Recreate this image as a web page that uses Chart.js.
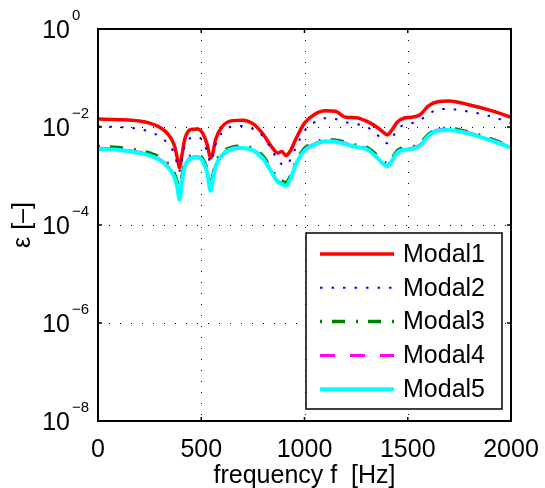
<!doctype html>
<html lang="en">
<head>
<meta charset="utf-8">
<title>Modal error vs frequency</title>
<script src="https://cdn.jsdelivr.net/npm/chart.js@4"></script>
<style>
  body { margin: 0; background: #fff; }
</style>
</head>
<body>
<canvas id="errChart" width="545" height="488"></canvas>

<script>
// frequency axis [Hz]
var freq = [0, 100, 200, 250, 300, 340, 370, 385, 395, 405,
            420, 450, 480, 510, 530, 545, 555, 570, 600, 650,
            700, 750, 800, 840, 870, 890, 910, 930, 960, 1000,
            1050, 1100, 1150, 1200, 1250, 1300, 1350, 1380, 1400, 1420,
            1450, 1480, 1520, 1560, 1600, 1650, 1700, 1800, 1900, 2000];

var modal1 = [0.0145, 0.0141, 0.0132, 0.0120, 0.00977, 0.00708, 0.00417, 0.00224, 0.00145, 0.0024,
              0.00562, 0.00891, 0.00912, 0.00708, 0.00417, 0.00234, 0.00282, 0.00562, 0.0100, 0.0135,
              0.0138, 0.0117, 0.00708, 0.00398, 0.00295, 0.00316, 0.00263, 0.00316, 0.00589, 0.0120,
              0.0182, 0.0214, 0.0209, 0.0158, 0.0155, 0.0132, 0.0100, 0.00794, 0.00692, 0.00832,
              0.0126, 0.0151, 0.0158, 0.0178, 0.0269, 0.0331, 0.0339, 0.0282, 0.0219, 0.0158];

var modal2 = [0.0102, 0.0100, 0.00912, 0.00794, 0.00631, 0.00447, 0.00282, 0.00166, 0.00126, 0.00200,
              0.00398, 0.00603, 0.00631, 0.00501, 0.00302, 0.00186, 0.0024, 0.00447, 0.00759, 0.0102,
              0.0105, 0.00912, 0.00631, 0.00355, 0.00209, 0.00174, 0.00166, 0.00209, 0.00398, 0.00832,
              0.0126, 0.0151, 0.0145, 0.0126, 0.0115, 0.0102, 0.00708, 0.00525, 0.00468, 0.00562,
              0.00891, 0.0110, 0.0120, 0.0138, 0.0182, 0.0229, 0.0234, 0.0204, 0.0166, 0.0120];

var modal3 = [0.00398, 0.0038, 0.00331, 0.00295, 0.0024, 0.00174, 0.00112, 0.000708, 0.000447, 0.000891,
              0.00174, 0.00257, 0.00269, 0.00214, 0.00126, 0.000631, 0.000955, 0.00182, 0.00295, 0.00389,
              0.00407, 0.00363, 0.00251, 0.00138, 0.000891, 0.000794, 0.000741, 0.000955, 0.002, 0.00363,
              0.00479, 0.0055, 0.00537, 0.0049, 0.00427, 0.00389, 0.00269, 0.00204, 0.00182, 0.00214,
              0.00331, 0.00372, 0.00389, 0.00457, 0.00708, 0.00912, 0.00933, 0.00776, 0.00575, 0.00407];

var modal4 = [0.00368, 0.00351, 0.00305, 0.00272, 0.00216, 0.00156, 0.00099, 0.00058, 0.00034, 0.00073,
              0.00156, 0.00237, 0.00248, 0.00198, 0.00116, 0.00052, 0.00082, 0.00164, 0.00272, 0.00368,
              0.00385, 0.00343, 0.00232, 0.00124, 0.00079, 0.00072, 0.00065, 0.00086, 0.00184, 0.00343,
              0.00452, 0.00531, 0.00519, 0.00463, 0.00403, 0.00368, 0.00248, 0.00184, 0.00164, 0.00198,
              0.00313, 0.00351, 0.00368, 0.00432, 0.00684, 0.00881, 0.00902, 0.0075, 0.00556, 0.00393];

var modal5 = [0.00355, 0.00339, 0.00295, 0.00263, 0.00209, 0.00151, 0.000955, 0.000562, 0.000331, 0.000708,
              0.00151, 0.00229, 0.0024, 0.00191, 0.00112, 0.000501, 0.000794, 0.00158, 0.00263, 0.00355,
              0.00372, 0.00331, 0.00224, 0.0012, 0.000759, 0.000692, 0.000631, 0.000832, 0.00178, 0.00331,
              0.00437, 0.00513, 0.00501, 0.00447, 0.00389, 0.00355, 0.0024, 0.00178, 0.00158, 0.00191,
              0.00302, 0.00339, 0.00355, 0.00417, 0.00661, 0.00851, 0.00871, 0.00724, 0.00537, 0.0038];

var seriesNames = ['Modal1', 'Modal2', 'Modal3', 'Modal4', 'Modal5'];
var xTicks = [0, 500, 1000, 1500, 2000];
var yTickExp = [-8, -6, -4, -2, 0];

var FONT = '"Liberation Sans", Arial, Helvetica, sans-serif';

function pts(vals) {
    return freq.map(function (f, i) { return { x: f, y: vals[i] }; });
}

// grid, box and inward ticks, matlab style
var framePlugin = {
    id: 'frame',
    beforeDatasetsDraw: function (chart) {
        var ctx = chart.ctx, a = chart.chartArea;
        var xs = chart.scales.x, ys = chart.scales.y;
        ctx.save();
        ctx.strokeStyle = '#000';
        ctx.lineWidth = 1;
        ctx.setLineDash([1, 10]);
        xTicks.slice(1, -1).forEach(function (v) {
            var px = Math.round(xs.getPixelForValue(v)) + 0.5;
            ctx.beginPath(); ctx.moveTo(px, a.top); ctx.lineTo(px, a.bottom); ctx.stroke();
        });
        yTickExp.slice(1, -1).forEach(function (e) {
            var py = Math.round(ys.getPixelForValue(Math.pow(10, e))) + 0.5;
            ctx.beginPath(); ctx.moveTo(a.left, py); ctx.lineTo(a.right, py); ctx.stroke();
        });
        ctx.restore();
    },
    afterDatasetsDraw: function (chart) {
        var ctx = chart.ctx, a = chart.chartArea;
        var xs = chart.scales.x, ys = chart.scales.y;
        ctx.save();
        ctx.strokeStyle = '#000';
        ctx.lineWidth = 1.5;
        xTicks.forEach(function (v) {
            var px = xs.getPixelForValue(v);
            ctx.beginPath();
            ctx.moveTo(px, a.bottom); ctx.lineTo(px, a.bottom - 4);
            ctx.moveTo(px, a.top); ctx.lineTo(px, a.top + 4);
            ctx.stroke();
        });
        yTickExp.forEach(function (e) {
            var py = ys.getPixelForValue(Math.pow(10, e));
            ctx.beginPath();
            ctx.moveTo(a.left, py); ctx.lineTo(a.left + 4, py);
            ctx.moveTo(a.right, py); ctx.lineTo(a.right - 4, py);
            ctx.stroke();
        });
        ctx.lineWidth = 2;
        ctx.strokeRect(a.left, a.top, a.right - a.left, a.bottom - a.top);
        ctx.restore();
    },
    afterDraw: function (chart) {
        var ctx = chart.ctx, a = chart.chartArea;
        var ys = chart.scales.y;
        ctx.save();
        ctx.fillStyle = '#000';
        // y tick labels 10^k
        yTickExp.forEach(function (e) {
            var py = ys.getPixelForValue(Math.pow(10, e));
            ctx.font = '25px ' + FONT;
            ctx.textAlign = 'right';
            ctx.textBaseline = 'middle';
            ctx.fillText('10', 70, py + 2);
            ctx.font = '15px ' + FONT;
            ctx.textAlign = 'left';
            ctx.textBaseline = 'alphabetic';
            ctx.fillText(e < 0 ? '\u2212' + (-e) : String(e), 72, py - 9);
        });

        // legend box in lower right of the axes
        var bw = 196, bh = 176;
        var bx = a.right - 9 - bw, by = a.bottom - 12 - bh;
        ctx.fillStyle = '#fff';
        ctx.fillRect(bx, by, bw, bh);
        ctx.strokeStyle = '#000';
        ctx.lineWidth = 1.5;
        ctx.strokeRect(bx, by, bw, bh);
        chart.data.datasets.forEach(function (ds, i) {
            var ly = by + 21 + i * 33.8;
            ctx.strokeStyle = ds.borderColor;
            ctx.lineWidth = ds.borderWidth;
            ctx.setLineDash(ds.borderDash || []);
            ctx.beginPath();
            ctx.moveTo(bx + 14, ly); ctx.lineTo(bx + 88, ly);
            ctx.stroke();
            ctx.setLineDash([]);
            ctx.fillStyle = '#000';
            ctx.font = '25px ' + FONT;
            ctx.textAlign = 'left';
            ctx.textBaseline = 'middle';
            ctx.fillText(ds.label, bx + 97, ly + 1);
        });
        ctx.restore();
    }
};

var ctx = document.getElementById('errChart').getContext('2d');
var chart = new Chart(ctx, {
    type: 'line',
    data: {
        datasets: [
            { label: seriesNames[0], data: pts(modal1), borderColor: '#ff0000', borderWidth: 3.5, order: 5 },
            { label: seriesNames[1], data: pts(modal2), borderColor: '#0000ff', borderWidth: 2, borderDash: [2.5, 9], order: 4 },
            { label: seriesNames[2], data: pts(modal3), borderColor: '#008000', borderWidth: 3.5, borderDash: [2, 10, 13, 11], order: 3 },
            { label: seriesNames[3], data: pts(modal4), borderColor: '#ff00ff', borderWidth: 3, borderDash: [15, 15], order: 2 },
            { label: seriesNames[4], data: pts(modal5), borderColor: '#00ffff', borderWidth: 4, order: 1 }
        ]
    },
    options: {
        responsive: false,
        animation: false,
        cubicInterpolationMode: 'monotone',
        elements: { point: { radius: 0 } },
        layout: { padding: { left: 0, right: 34, top: 29, bottom: 0 } },
        plugins: {
            legend: { display: false },
            tooltip: { enabled: false }
        },
        scales: {
            x: {
                type: 'linear',
                min: 0,
                max: 2000,
                afterBuildTicks: function (s) { s.ticks = xTicks.map(function (v) { return { value: v }; }); },
                afterFit: function (s) { s.height = 67; s.paddingLeft = 0; s.paddingRight = 0; },
                grid: { display: false, drawTicks: false },
                border: { display: false },
                ticks: { color: '#000', autoSkip: false, maxRotation: 0, padding: 14,
                         font: { size: 25, family: FONT },
                         callback: function (v) { return String(v); } },
                title: { display: true, text: 'frequency f  [Hz]', color: '#000', padding: { top: 0, bottom: -1 },
                         font: { size: 25, family: FONT, lineHeight: 1 } }
            },
            y: {
                type: 'logarithmic',
                min: 1e-8,
                max: 1,
                afterBuildTicks: function (s) { s.ticks = yTickExp.map(function (e) { return { value: Math.pow(10, e) }; }); },
                afterFit: function (s) { s.width = 98; },
                grid: { display: false, drawTicks: false },
                border: { display: false },
                ticks: { display: false },
                title: { display: true, text: '\u03b5 [\u2013]', color: '#000', padding: { top: 11, bottom: 0 },
                         font: { size: 25, family: FONT, lineHeight: 1 } }
            }
        }
    },
    plugins: [framePlugin]
});
</script>
</body>
</html>
